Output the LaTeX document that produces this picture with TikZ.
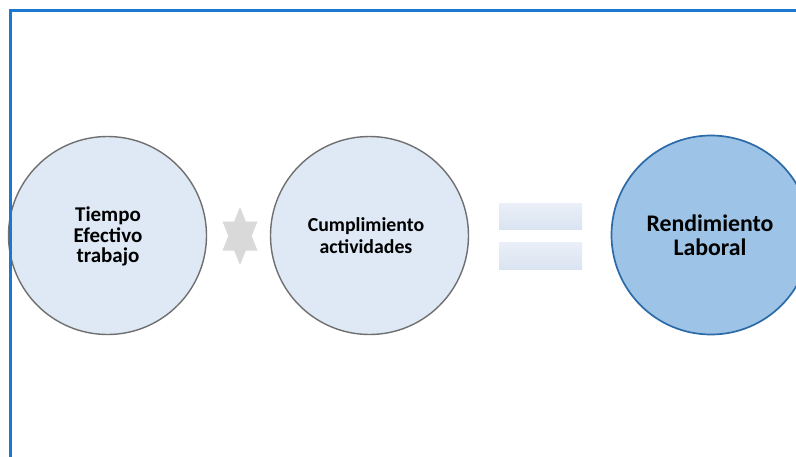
\documentclass[tikz,border=0pt]{standalone}
\usepackage{fontspec}
\setmainfont{Carlito}
\definecolor{framblue}{HTML}{1B78D0}
\definecolor{paleblue}{HTML}{DEE9F5}
\definecolor{midblue}{HTML}{9DC3E6}
\definecolor{darkrim}{HTML}{2C6BA8}
\definecolor{greyrim}{HTML}{6F6F6F}
\definecolor{stargrey}{HTML}{D9D9D9}
\definecolor{bartop}{HTML}{EAEFF8}
\definecolor{barbot}{HTML}{DAE4F1}
\tikzset{
  termcircle/.style={circle, minimum size=198pt, inner sep=0pt, fill=paleblue,
    draw=greyrim, line width=1.4pt},
  resultcircle/.style={circle, minimum size=199pt, inner sep=0pt, fill=midblue,
    draw=darkrim, line width=1.7pt},
  termtext/.style={align=center, inner sep=0pt,
    font=\bfseries\fontsize{21}{20.7}\selectfont},
  resulttext/.style={align=center, inner sep=0pt,
    font=\bfseries\fontsize{23.8}{24}\selectfont},
  eqbar/.style={top color=bartop, bottom color=barbot, draw=none, inner sep=0pt},
  starmark/.style={fill=stargrey, draw=none},
  framebar/.style={draw=framblue, line width=2.2pt}
}
\begin{document}
\begin{tikzpicture}[x=1pt, y=-1pt]
  \useasboundingbox (0,0) rectangle (796,456);
  \fill[white] (0,0) rectangle (796,456);

  % operands and result
  \node[termcircle] (tiempo) at (107.5,235.5) {};
  \node[termcircle] (cumpl) at (369.5,235.5) {};
  \node[resultcircle] (rend) at (711,235) {};
  \node[termtext] (tiempotxt) at (108,236.5) {Tiempo\\Efectivo\\trabajo};
  \node[termtext, font=\bfseries\fontsize{19.8}{21.5}\selectfont] (cumpltxt) at (366,235.5) {Cumplimiento\\actividades};
  \node[resulttext] (rendtxt) at (710,235) {Rendimiento\\Laboral};

  % product sign between the two operands
  \coordinate (star) at (240,236);
  \fill[starmark] ([shift={(0,-29)}]star) -- ([shift={(17.5,14.5)}]star) -- ([shift={(-17.5,14.5)}]star) -- cycle;
  \fill[starmark] ([shift={(0,29)}]star) -- ([shift={(17.5,-14.5)}]star) -- ([shift={(-17.5,-14.5)}]star) -- cycle;

  % equals sign
  \node[eqbar, minimum width=83pt, minimum height=26pt] (eqtop) at (540.5,216) {};
  \node[eqbar, minimum width=83pt, minimum height=27pt] (eqbot) at (540.5,255.5) {};

  % page frame
  \draw[framebar] (10.5,470) -- (10.5,10.5) -- (810,10.5);
\end{tikzpicture}
\end{document}
